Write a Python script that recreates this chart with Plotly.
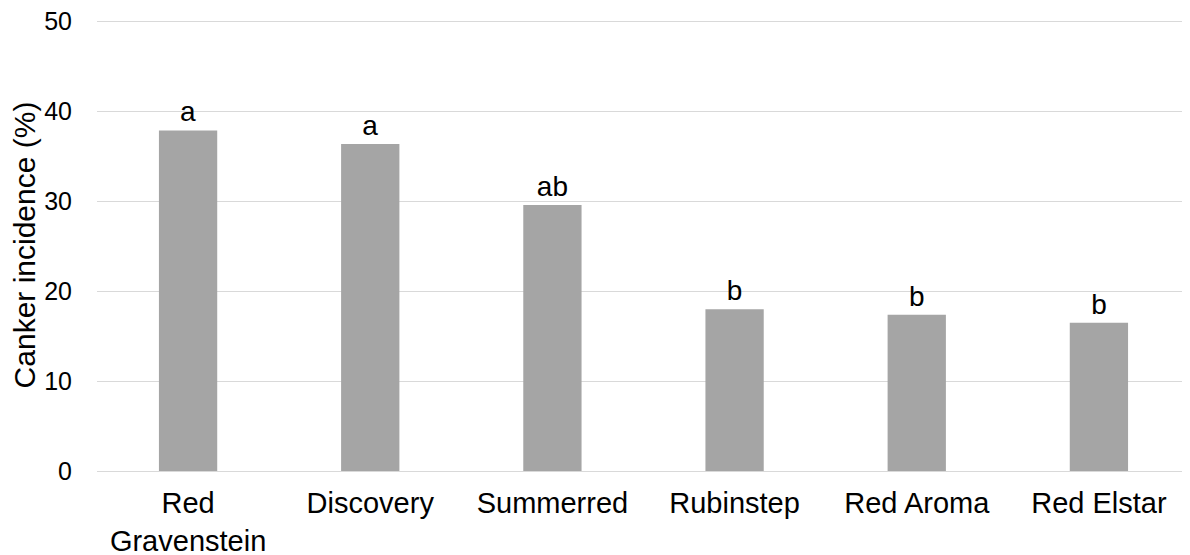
import plotly.graph_objects as go

categories = ["Red<br>Gravenstein", "Discovery", "Summerred", "Rubinstep", "Red Aroma", "Red Elstar"]
values = [37.9, 36.4, 29.6, 18.0, 17.4, 16.5]
letters = ["a", "a", "ab", "b", "b", "b"]
y_ticks = [0, 10, 20, 30, 40, 50]

FONT = "Liberation Sans, Arial, sans-serif"

fig = go.Figure(
    go.Bar(
        x=categories,
        y=values,
        text=letters,
        textposition="outside",
        textfont=dict(family=FONT, size=28, color="black"),
        marker=dict(color="#a5a5a5", line=dict(width=0)),
        cliponaxis=False,
        width=0.32,
    )
)

# the page body has an 8px default margin, so the figure is sized/placed to compensate
fig.update_layout(
    width=1182,
    height=547,
    margin=dict(l=89, r=0, t=11, b=84),
    paper_bgcolor="white",
    plot_bgcolor="white",
    showlegend=False,
    font=dict(family=FONT, size=28, color="black"),
)
fig.update_xaxes(
    range=[-0.5, 5.5],
    showgrid=False,
    showline=False,
    ticks="",
    automargin=False,
    ticklabelstandoff=12,
    tickfont=dict(family=FONT, size=29, color="black"),
)
fig.update_yaxes(
    range=[0, 50.3],
    tickvals=y_ticks,
    showgrid=True,
    gridcolor="#d9d9d9",
    gridwidth=1,
    zeroline=True,
    zerolinecolor="#d9d9d9",
    zerolinewidth=1,
    showline=False,
    ticks="",
    automargin=False,
    ticklabeloverflow="allow",
    ticklabelstandoff=24,
    tickfont=dict(family=FONT, size=25, color="black"),
    title=dict(text="Canker incidence (%)", standoff=2, font=dict(family=FONT, size=30, color="black")),
)

fig.write_html("out.html")
